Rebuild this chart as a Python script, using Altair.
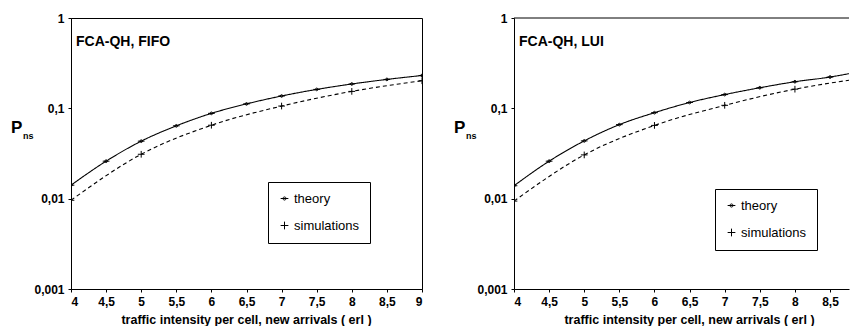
import altair as alt
import pandas as pd

x_theory = [4, 4.5, 5, 5.5, 6, 6.5, 7, 7.5, 8, 8.5, 9]
x_sim = [4, 5, 6, 7, 8, 9]
fifo_theory = [0.0141, 0.026, 0.0433, 0.064, 0.088, 0.112, 0.137, 0.162, 0.186, 0.209, 0.231]
fifo_sim = [0.0096, 0.031, 0.065, 0.106, 0.154, 0.202]
lui_theory = [0.0139, 0.026, 0.0436, 0.066, 0.0895, 0.116, 0.142, 0.169, 0.197, 0.222, 0.242]
lui_sim = [0.0094, 0.0305, 0.0647, 0.108, 0.163, 0.205]
x_ticks = [4, 4.5, 5, 5.5, 6, 6.5, 7, 7.5, 8, 8.5, 9]
y_ticks = [0.001, 0.01, 0.1, 1]
series = ["theory", "simulations"]

FONT = "Liberation Sans"
DOT = "M-1,0H1M0,-0.4A0.4,0.4 0 1,1 0,0.4A0.4,0.4 0 1,1 0,-0.4Z"
PLUS = "M-1,0H1M0,-1V1"


def panel(title, theory, sim, xmax, ticks, width, height, lx, ly, framed):
    df = pd.DataFrame(
        {"x": x_theory + x_sim,
         "y": theory + sim,
         "series": ["theory"] * len(x_theory) + ["simulations"] * len(x_sim)}
    )
    xenc = alt.X("x:Q", scale=alt.Scale(domain=[4, xmax], nice=False, clamp=True),
                 axis=alt.Axis(values=ticks, title="traffic intensity per cell, new arrivals ( erl )",
                               titleX=175, titleAnchor="middle",
                               labelExpr="replace(format(datum.value, '~g'), '.', ',')"))
    yenc = alt.Y("y:Q", scale=alt.Scale(type="log", domain=[0.001, 1], nice=False),
                 axis=alt.Axis(values=y_ticks, title=None,
                               labelExpr="replace(format(datum.value, '~g'), '.', ',')"))
    base = alt.Chart(df)
    lines = base.mark_line(color="black", strokeWidth=1.1, interpolate="monotone", clip=True).encode(
        x=xenc, y=yenc,
        strokeDash=alt.StrokeDash("series:N", scale=alt.Scale(domain=series, range=[[1, 0], [4, 3]]), legend=None),
        detail="series:N",
    )
    pts = base.transform_filter(alt.datum.x <= xmax).mark_point(
        filled=False, stroke="black", strokeWidth=1, opacity=1, size=45, clip=True).encode(
        x=xenc, y=yenc,
        shape=alt.Shape("series:N", scale=alt.Scale(domain=series, range=[DOT, PLUS]),
                        legend=alt.Legend(title=None, orient="none", legendX=lx, legendY=ly,
                                          strokeColor="black", fillColor="white", padding=10,
                                          symbolSize=60, symbolStrokeColor="black",
                                          symbolStrokeWidth=1, labelFont=FONT, labelFontSize=13,
                                          labelColor="black", labelOffset=3, rowPadding=13)),
    )
    lab = alt.Chart(pd.DataFrame({"t": [title]})).mark_text(
        align="left", baseline="alphabetic", font=FONT, fontSize=14, fontWeight="bold", color="black"
    ).encode(x=alt.value(5), y=alt.value(28), text="t:N")
    p = alt.Chart(pd.DataFrame({"t": ["P"]})).mark_text(
        align="left", baseline="alphabetic", font=FONT, fontSize=17, fontWeight="bold", color="black"
    ).encode(x=alt.value(-60), y=alt.value(115), text="t:N")
    ns = alt.Chart(pd.DataFrame({"t": ["ns"]})).mark_text(
        align="left", baseline="alphabetic", font=FONT, fontSize=9, fontWeight="bold", color="black"
    ).encode(x=alt.value(-48), y=alt.value(121), text="t:N")
    layers = [lines, pts, lab, p, ns]
    if not framed:
        top = alt.Chart(pd.DataFrame({"t": [0]})).mark_rule(color="black", strokeWidth=1).encode(
            y=alt.value(0))
        layers.append(top)
    ch = alt.layer(*layers).properties(width=width, height=height).resolve_scale(
        shape="independent", strokeDash="independent")
    if not framed:
        ch = ch.properties(view=alt.ViewBackground(stroke="transparent"))
    return ch


left = panel("FCA-QH, FIFO", fifo_theory, fifo_sim, 9, x_ticks, 351, 271, 197, 164, True)
right = panel("FCA-QH, LUI", lui_theory, lui_sim, 8.77, x_ticks[:-1], 335, 271, 201, 171, False)

chart = alt.hconcat(left, right, spacing=30).resolve_scale(
    shape="independent", strokeDash="independent", x="independent", y="independent"
).resolve_legend(shape="independent").configure_view(
    stroke="black", strokeWidth=1
).configure_axis(
    labelFont=FONT, labelFontSize=12, labelFontWeight="bold", labelColor="black",
    titleFont=FONT, titleFontSize=12.5, titleFontWeight="bold", titleColor="black",
    domainColor="black", tickColor="black", tickSize=3, grid=False, labelPadding=4,
    titlePadding=6,
).properties(padding={"left": 2, "top": 3, "right": 0, "bottom": 0})

chart.save("out.html", embed_options={"renderer": "svg", "actions": False})
